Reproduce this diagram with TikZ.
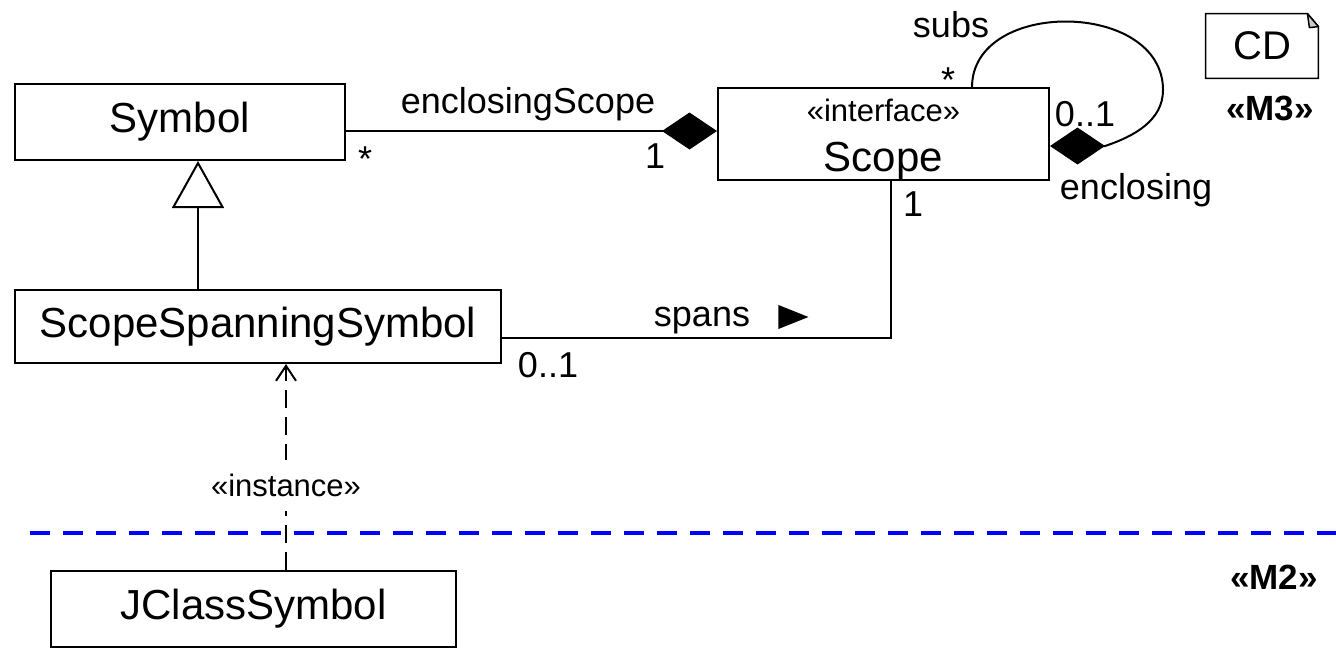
\documentclass[tikz,border=0pt]{standalone}
\usepackage{fontspec}
\setmainfont{Liberation Sans}
\usetikzlibrary{arrows.meta,positioning,calc}
\newcommand{\stereofont}{\fontsize{15.5}{18}\selectfont}

\begin{document}
\begin{tikzpicture}[x=0.5pt,y=0.5pt,
  cls/.style={draw,line width=1pt,inner sep=0pt,font=\fontsize{21}{25}\selectfont},
  lbl/.style={inner sep=0pt,anchor=base,font=\fontsize{18}{21}\selectfont},
  level/.style={inner sep=0pt,anchor=base east,font=\fontsize{17.5}{21}\selectfont\bfseries},
  assoc/.style={line width=1pt},
  comp/.style={assoc,-{Diamond[length=27.5pt,width=18.5pt]}},
  gen/.style={line width=1pt,-{Triangle[open,length=23.5pt,width=26pt]}},
  inst/.style={line width=1pt,dash pattern=on 9pt off 4.5pt,-{Straight Barb[length=7.5pt,width=10pt]}}]
\useasboundingbox (0,0) rectangle (1336,-655);

% classes
\node[cls,minimum width=165pt,minimum height=38pt] (symbol) at (180,-122) {Symbol};
\node[cls,minimum width=165.5pt,minimum height=45pt,align=center] (scope) at (883.5,-134) {\rule{0pt}{16.4pt}{\stereofont «interface»}\\Scope};
\node[cls,minimum width=243pt,minimum height=36.5pt] (spanning) at (258,-326.5) {ScopeSpanningSymbol};
\node[cls,minimum width=202.5pt,minimum height=38pt] (jclass) at (253.5,-609) {JClassSymbol};

% diagram frame tag and levels
\node[minimum width=56pt,minimum height=32pt,inner sep=0pt,font=\fontsize{20}{24}\selectfont] (cd) at (1262,-46) {CD};
\draw[line width=0.75pt] (cd.south west) -- (cd.north west) -- ([xshift=-5.5pt]cd.north east) -- ([yshift=-6.5pt]cd.north east) -- (cd.south east) -- cycle;
\filldraw[fill=gray!40,line width=0.75pt,line join=round] ([xshift=-5.5pt]cd.north east) -- ([yshift=-6.5pt]cd.north east) -- ([xshift=-4.5pt,yshift=-7pt]cd.north east) -- cycle;
\node[level] (mthree) at (1314,-120) {«M3»};
\node[level] (mtwo) at (1318,-589) {«M2»};
\draw[blue,line width=2pt,dash pattern=on 10pt off 6.5pt] (30,-533) -- (1336,-533);

% relations
\draw[gen] ([xshift=-30pt]spanning.north) -- ([xshift=9pt]symbol.south);
\coordinate (compend) at ([yshift=1.5pt]scope.west);
\draw[comp] (compend -| symbol.east) -- (compend);
\coordinate (spansend) at ([yshift=-5.75pt]spanning.east);
\draw[assoc] (spansend) -| ([xshift=3.75pt]scope.south);
\coordinate (loopr) at (1163,-90);
\draw[comp] ([xshift=-39pt]scope.north east) .. controls +(0,89) and +(0,90) .. (loopr)
  .. controls +(0,-30) and +(30,10) .. ([shift={(27.5pt,-6pt)}]scope.east) -- ([yshift=-6pt]scope.east);
\draw[inst] ([xshift=16.25pt]jclass.north) -- node[pos=0.41,fill=white,inner xsep=2pt,inner ysep=7pt,font=\stereofont] (instlbl) {«instance»} ([xshift=14pt]spanning.south);

% role names and multiplicities
\node[lbl] (enclscope) at (528,-113) {enclosingScope};
\node[lbl] (symstar) at (365,-171) {*};
\node[lbl] (scopeone) at (655,-168) {1};
\node[lbl] (subs) at (951,-37) {subs};
\node[lbl] (substar) at (948,-92) {*};
\node[lbl] (enclmult) at (1085,-126) {0..1};
\node[lbl] (encl) at (1136,-199) {enclosing};
\node[lbl] (spanone) at (913,-216) {1};
\node[lbl] (spans) at (702,-326) {spans};
\fill ([shift={(14pt,-1.5pt)}]spans.base east) -- ++(15pt,6pt) -- ++(-15pt,6pt) -- cycle;
\node[lbl] (spanmult) at (548,-377) {0..1};
\end{tikzpicture}
\end{document}
